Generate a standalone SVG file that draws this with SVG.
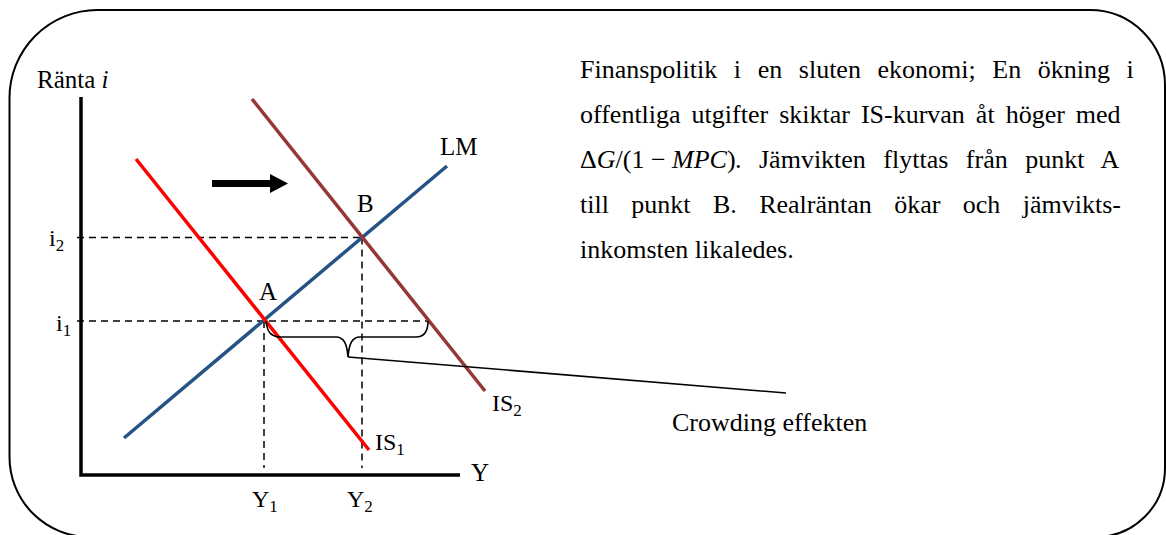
<svg xmlns="http://www.w3.org/2000/svg" width="1166" height="535" viewBox="0 0 1166 535">
<style>
  .t { font-family: "Liberation Serif", "Times New Roman", serif; fill: #000; }
  .body { font-size: 26px; }
  .lbl { font-size: 25px; }
  .sub { font-size: 17px; }
  .dash { stroke: #000; stroke-width: 1.5; stroke-dasharray: 7 5; fill: none; }
  .axis { stroke: #000; stroke-width: 3.5; fill: none; }
  .curve { stroke-width: 3.5; fill: none; }
</style>
<rect width="1166" height="535" fill="#fff"/>
<g id="frame">
  <path d="M97,10 L1090,10 A75,75 0 0 1 1165,85 L1165,468 A69,69 0 0 1 1096,537 L89.5,537 A80,80 0 0 1 9.5,457 L9.5,98 A88,88 0 0 1 97,10 Z" fill="none" stroke="#000" stroke-width="2"/>
</g>
<g id="axes">
  <path class="axis" d="M81,97 L81,475 L460,475"/>
  <text class="t lbl" x="37" y="88">Ränta <tspan font-style="italic">i</tspan></text>
  <text class="t lbl" x="471" y="481">Y</text>
</g>
<g id="guides">
  <path class="dash" d="M77,237.5 L362,237.5"/>
  <path class="dash" d="M77,321 L428,321"/>
  <path class="dash" d="M264,321 L264,468"/>
  <path class="dash" d="M362,237.5 L362,468"/>
  <text class="t" x="49" y="246" font-size="24">i<tspan class="sub" dy="5">2</tspan></text>
  <text class="t" x="56" y="331" font-size="24">i<tspan class="sub" dy="5">1</tspan></text>
  <text class="t" x="252" y="507" font-size="24">Y<tspan class="sub" dy="5">1</tspan></text>
  <text class="t" x="347" y="507" font-size="24">Y<tspan class="sub" dy="5">2</tspan></text>
</g>
<g id="LM">
  <line class="curve" x1="124" y1="438" x2="447" y2="166" stroke="#265385"/>
  <text class="t lbl" x="440" y="155">LM</text>
</g>
<g id="IS1">
  <line class="curve" x1="136" y1="159" x2="369" y2="450" stroke="#ff0000"/>
  <text class="t" x="375" y="450" font-size="24">IS<tspan class="sub" dy="5">1</tspan></text>
</g>
<g id="IS2">
  <line class="curve" x1="252" y1="99" x2="485" y2="391" stroke="#953735"/>
  <text class="t" x="492" y="411" font-size="24">IS<tspan class="sub" dy="5">2</tspan></text>
</g>
<g id="pointA">
  <text class="t lbl" x="259" y="300">A</text>
</g>
<g id="pointB">
  <text class="t lbl" x="357" y="212">B</text>
</g>
<g id="shift-arrow">
  <rect x="212" y="180" width="59" height="7" fill="#000"/>
  <polygon points="270,174 288,183.5 270,193" fill="#000"/>
</g>
<g id="connectors">
  <path d="M266,321 C267,332 271,337 281,337 L336,337 C344,337 347,344 348,357 C349,344 352,337 360,337 L416,337 C424,337 428,331 428,321" fill="none" stroke="#000" stroke-width="1.6"/>
  <line x1="348" y1="357" x2="786" y2="393" stroke="#000" stroke-width="1.6"/>
</g>
<g id="crowding">
  <text class="t body" x="672" y="431">Crowding effekten</text>
</g>
<g id="description">
  <text class="t body" x="580" y="78" word-spacing="10.1">Finanspolitik i en sluten ekonomi; En ökning i</text>
  <text class="t body" x="580" y="123" word-spacing="4.5">offentliga utgifter skiktar IS-kurvan åt höger med</text>
  <text class="t body" x="580" y="168">Δ<tspan font-style="italic">G</tspan>/(1 − <tspan font-style="italic">MPC</tspan>)</text>
  <text class="t body" x="735" y="168" word-spacing="11">. Jämvikten flyttas från punkt A</text>
  <text class="t body" x="580" y="213" word-spacing="15.9">till punkt B. Realräntan ökar och jämvikts-</text>
  <text class="t body" x="580" y="258">inkomsten likaledes.</text>
</g>
</svg>
